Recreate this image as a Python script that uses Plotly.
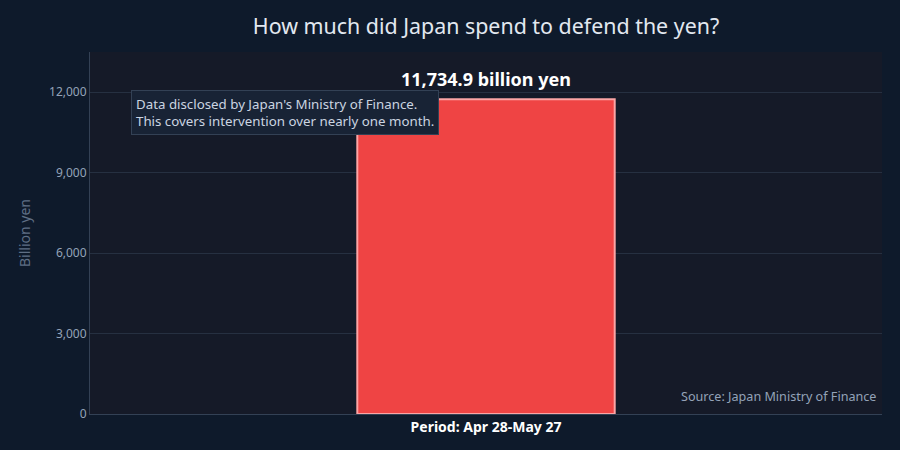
import plotly.graph_objects as go

# data
periods = ['Period: Apr 28-May 27']
spend = [11734.9]
bar_labels = ['11,734.9 billion yen']
y_ticks = [0, 3000, 6000, 9000, 12000]

PAPER = '#0e1a2b'
PLOT = '#151a28'
RED = '#ef4444'
TEXT = '#e2e8f0'
MUTED = '#94a3b8'
FONT = 'Noto Sans'

fig = go.Figure()
fig.add_trace(go.Bar(
    x=periods, y=spend, width=0.325,
    marker=dict(color=RED, line=dict(color='#fca5a5', width=2)),
    hoverinfo='skip',
))

# value label above the bar
fig.add_annotation(
    x=periods[0], y=spend[0], text=bar_labels[0], showarrow=False,
    yanchor='bottom', yshift=6,
    font=dict(size=18, color='#ffffff', family=FONT, weight='bold'),
)

fig.add_annotation(
    text="Data disclosed by Japan's Ministry of Finance.<br>This covers intervention over nearly one month.",
    xref='paper', yref='paper', x=0.052, y=0.894, xanchor='left', yanchor='top',
    showarrow=False, align='left',
    font=dict(size=13.3, color='#cbd5e1', family=FONT),
    bgcolor='#182335', bordercolor='#334155', borderwidth=1, borderpad=4,
)
fig.add_annotation(
    text='Source: Japan Ministry of Finance',
    xref='paper', yref='paper', x=0.995, y=0.018, xanchor='right', yanchor='bottom',
    showarrow=False, font=dict(size=12.6, color=MUTED, family=FONT),
)

fig.update_layout(
    width=900, height=450,
    title=dict(text='How much did Japan spend to defend the yen?', x=0.5, xref='paper',
               y=0.94, yanchor='middle', font=dict(size=21.4, color=TEXT, family=FONT)),
    paper_bgcolor=PAPER, plot_bgcolor=PLOT,
    margin=dict(l=90, r=18, t=52, b=36),
    font=dict(family=FONT, color=MUTED),
    showlegend=False,
)
fig.update_xaxes(
    showgrid=False, showline=True, linecolor='#334155',
    tickfont=dict(size=14, color='#ffffff', family=FONT, weight='bold'),
)
fig.update_yaxes(
    range=[0, max(spend) * 1.15], tickvals=y_ticks, tickformat=',',
    gridcolor='#263041', showline=True, linecolor='#334155', zeroline=False,
    title=dict(text='Billion yen', font=dict(size=14, color='#5f6f85')),
    tickfont=dict(size=12, color=MUTED),
)

fig.write_html('out.html', config={'displayModeBar': False},
               post_script="document.body.style.margin='0';")
